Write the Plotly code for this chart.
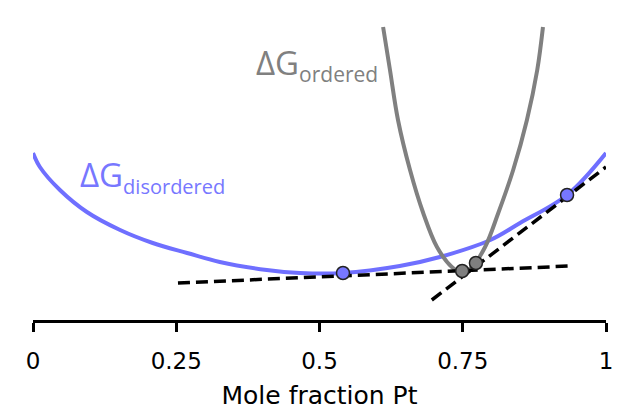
import plotly.graph_objects as go

# Disordered free-energy curve
dis_x = [0.0, 0.012, 0.047, 0.094, 0.152, 0.209, 0.269, 0.326, 0.408, 0.466, 0.541, 0.640, 0.710, 0.798, 0.850, 0.932, 1.0]
dis_y = [167, 153, 130, 108, 90, 77, 67, 58, 50, 47, 47, 54, 63, 80, 97, 125, 167]

# Ordered free-energy curve
ord_x = [0.611, 0.623, 0.637, 0.658, 0.681, 0.705, 0.731, 0.749, 0.766, 0.789, 0.812, 0.838, 0.862, 0.880, 0.890]
ord_y = [293, 250, 200, 150, 107, 73, 53, 47, 53, 73, 107, 150, 200, 250, 293]

# Common tangent lines
tan1_x = [0.253, 0.937]
tan1_y = [37, 54]
tan2_x = [0.696, 1.0]
tan2_y = [20, 153]

# Tangent points
blue_pts_x = [0.541, 0.932]
blue_pts_y = [47, 125]
gray_pts_x = [0.749, 0.773]
gray_pts_y = [49, 57]

tick_vals = [0, 0.25, 0.5, 0.75, 1]
tick_text = ["0", "0.25", "0.5", "0.75", "1"]

BLUE = "#6F6FFF"
GRAY = "#808080"
FONT = "Open Sans"
AXFONT = "DejaVu Sans"

fig = go.Figure()
fig.add_trace(go.Scatter(x=dis_x, y=dis_y, mode="lines", line=dict(color=BLUE, width=4, shape="spline"), hoverinfo="skip"))
fig.add_trace(go.Scatter(x=ord_x, y=ord_y, mode="lines", line=dict(color=GRAY, width=4, shape="spline"), hoverinfo="skip"))
fig.add_trace(go.Scatter(x=tan1_x, y=tan1_y, mode="lines", line=dict(color="black", width=3.5, dash="12px,6px")))
fig.add_trace(go.Scatter(x=tan2_x, y=tan2_y, mode="lines", line=dict(color="black", width=3.5, dash="12px,6px")))
fig.add_trace(go.Scatter(x=blue_pts_x, y=blue_pts_y, mode="markers",
                         marker=dict(size=13, color="#7777FF", line=dict(color="#222222", width=1.5))))
fig.add_trace(go.Scatter(x=gray_pts_x, y=gray_pts_y, mode="markers",
                         marker=dict(size=13, color="#7F7F7F", line=dict(color="#222222", width=1.5))))

fig.add_annotation(x=0.0785, y=144, xref="x", yref="y", xanchor="left", yanchor="middle",
                   text="ΔG<sub><span style='font-size:20px'>disordered</span></sub>", showarrow=False,
                   font=dict(family=FONT, size=33, color="#7777FF"))
fig.add_annotation(x=0.385, y=256, xref="x", yref="y", xanchor="left", yanchor="middle",
                   text="ΔG<sub><span style='font-size:21px'>ordered</span></sub>", showarrow=False,
                   font=dict(family=FONT, size=33, color="#808080"))

fig.update_layout(
    width=624, height=419,
    margin=dict(l=33, r=18, t=0, b=99),
    paper_bgcolor="white", plot_bgcolor="white",
    showlegend=False,
    font=dict(family=AXFONT, color="black"),
    xaxis=dict(range=[0, 1], tickvals=tick_vals, ticktext=tick_text,
               showgrid=False, zeroline=False, showline=True, linecolor="black", linewidth=3,
               ticks="outside", ticklen=9, tickwidth=3, tickcolor="black",
               tickfont=dict(size=23, family=AXFONT), ticklabelstandoff=9,
               title=dict(text="Mole fraction Pt", font=dict(size=25, family=AXFONT), standoff=14)),
    yaxis=dict(range=[0, 320], visible=False),
)

fig.write_html("out.html")
